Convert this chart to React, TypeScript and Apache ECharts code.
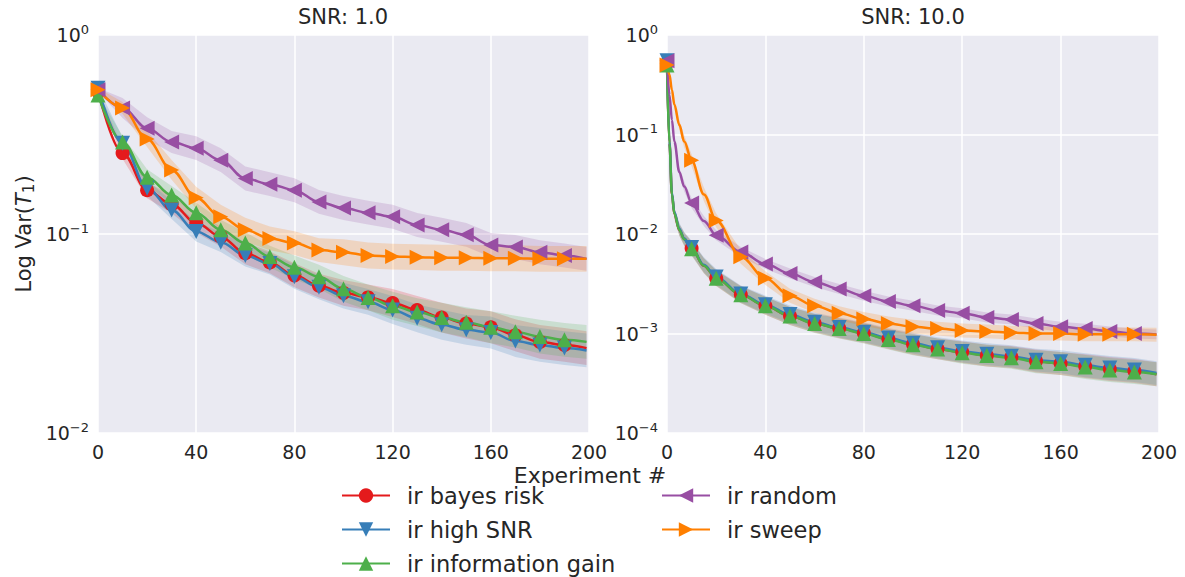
import React, { useEffect, useRef } from "react";
import * as echarts from "echarts";

// ---------- data ----------
const LX = [0, 10, 20, 30, 40, 50, 60, 70, 80, 90, 100, 110, 120, 130, 140, 150, 160, 170, 180, 190, 199];
const RX = [0, 1, 2, 3, 5, 7, 10, 15, 20, 30, 40, 50, 60, 70, 80, 90, 100, 110, 120, 130, 140, 150, 160, 170, 180, 190, 199];

const redL = [0.52, 0.255, 0.166, 0.141, 0.114, 0.097, 0.08, 0.072, 0.062, 0.055, 0.0506, 0.048, 0.045, 0.0415, 0.038, 0.0355, 0.034, 0.031, 0.0287, 0.0277, 0.0267];
const blueL = [0.54, 0.286, 0.17, 0.132, 0.103, 0.091, 0.078, 0.071, 0.061, 0.054, 0.049, 0.0456, 0.0415, 0.0377, 0.035, 0.033, 0.032, 0.029, 0.0277, 0.0267, 0.026];
const greenL = [0.5, 0.29, 0.193, 0.157, 0.128, 0.105, 0.09, 0.077, 0.068, 0.061, 0.053, 0.048, 0.0436, 0.0405, 0.038, 0.036, 0.034, 0.0323, 0.0305, 0.0294, 0.0287];
const purpleL = [0.53, 0.43, 0.34, 0.29, 0.27, 0.235, 0.19, 0.178, 0.166, 0.145, 0.135, 0.128, 0.122, 0.111, 0.105, 0.099, 0.088, 0.086, 0.081, 0.078, 0.075];
const orangeL = [0.53, 0.43, 0.3, 0.21, 0.152, 0.122, 0.105, 0.095, 0.09, 0.083, 0.081, 0.078, 0.077, 0.0765, 0.076, 0.076, 0.0755, 0.0755, 0.075, 0.075, 0.075];

const redR = [0.52, 0.082, 0.025, 0.016, 0.011, 0.0089, 0.0072, 0.0048, 0.0036, 0.00247, 0.0019, 0.0015, 0.00127, 0.00113, 0.00101, 0.00088, 0.00078, 0.0007, 0.00065, 0.0006, 0.00058, 0.00053, 0.0005, 0.00047, 0.00044, 0.00042, 0.00039];
const blueR = [0.55, 0.085, 0.026, 0.0165, 0.0113, 0.009, 0.0073, 0.0049, 0.0037, 0.0025, 0.00195, 0.00155, 0.0013, 0.00115, 0.00103, 0.0009, 0.0008, 0.00072, 0.00066, 0.00062, 0.00059, 0.00054, 0.00052, 0.00048, 0.00045, 0.00043, 0.0004];
const greenR = [0.5, 0.08, 0.025, 0.016, 0.011, 0.0088, 0.0071, 0.0048, 0.0036, 0.00245, 0.0019, 0.0015, 0.00126, 0.00112, 0.001, 0.00087, 0.00077, 0.0007, 0.00064, 0.0006, 0.00057, 0.00052, 0.0005, 0.00046, 0.00043, 0.00041, 0.00039];
const purpleR = [0.55, 0.25, 0.14, 0.085, 0.042, 0.03, 0.0205, 0.0135, 0.0097, 0.0066, 0.005, 0.004, 0.0033, 0.0028, 0.0024, 0.0021, 0.0019, 0.0017, 0.0016, 0.00145, 0.00138, 0.00126, 0.00117, 0.00112, 0.00105, 0.001, 0.00098];
const orangeR = [0.5, 0.4, 0.28, 0.2, 0.125, 0.085, 0.055, 0.025, 0.0137, 0.0059, 0.0036, 0.0024, 0.0019, 0.0016, 0.0014, 0.00126, 0.00117, 0.00112, 0.00107, 0.00105, 0.00102, 0.001, 0.001, 0.00098, 0.00098, 0.00098, 0.00097];

// confidence band half-widths (in decades)
const bandLSub = [0.005, 0.03, 0.04, 0.045, 0.05, 0.05, 0.055, 0.055, 0.06, 0.06, 0.065, 0.065, 0.07, 0.07, 0.075, 0.075, 0.08, 0.08, 0.085, 0.085, 0.085];
const bandLPurple = [0.01, 0.05, 0.055, 0.055, 0.06, 0.06, 0.06, 0.06, 0.06, 0.06, 0.06, 0.06, 0.06, 0.06, 0.06, 0.06, 0.06, 0.06, 0.06, 0.06, 0.06];
const bandLOrange = [0.01, 0.03, 0.04, 0.05, 0.055, 0.06, 0.06, 0.06, 0.06, 0.06, 0.065, 0.065, 0.065, 0.065, 0.065, 0.065, 0.065, 0.065, 0.065, 0.065, 0.065];
const bandRSub = [0.005, 0.02, 0.04, 0.05, 0.06, 0.065, 0.07, 0.075, 0.08, 0.085, 0.09, 0.09, 0.095, 0.1, 0.1, 0.1, 0.105, 0.105, 0.11, 0.11, 0.11, 0.115, 0.115, 0.12, 0.12, 0.12, 0.12];
const bandRPurple = [0.005, 0.02, 0.03, 0.04, 0.045, 0.05, 0.05, 0.05, 0.05, 0.05, 0.05, 0.05, 0.05, 0.05, 0.05, 0.05, 0.05, 0.05, 0.05, 0.05, 0.05, 0.05, 0.05, 0.05, 0.05, 0.05, 0.05];
const bandROrange = [0.005, 0.02, 0.03, 0.04, 0.05, 0.06, 0.06, 0.07, 0.07, 0.07, 0.07, 0.07, 0.07, 0.07, 0.07, 0.07, 0.07, 0.07, 0.07, 0.07, 0.07, 0.07, 0.07, 0.07, 0.07, 0.07, 0.07];

const TITLES = ["SNR: 1.0", "SNR: 10.0"];
const X_TICKS = { min: 0, max: 200, interval: 40 };

const SERIES_META = [
  { name: "ir bayes risk", color: "#E41A1C", symbol: "circle", rotate: 0, size: 14 },
  { name: "ir high SNR", color: "#377EB8", symbol: "triangle", rotate: 180, size: 15 },
  { name: "ir information gain", color: "#4DAF4A", symbol: "triangle", rotate: 0, size: 15 },
  { name: "ir random", color: "#984EA3", symbol: "triangle", rotate: 90, size: 15 },
  { name: "ir sweep", color: "#FF7F00", symbol: "triangle", rotate: -90, size: 15 },
];

const LEFT_VALUES = [redL, blueL, greenL, purpleL, orangeL];
const RIGHT_VALUES = [redR, blueR, greenR, purpleR, orangeR];
const LEFT_BANDS = [bandLSub, bandLSub, bandLSub, bandLPurple, bandLOrange];
const RIGHT_BANDS = [bandRSub, bandRSub, bandRSub, bandRPurple, bandROrange];

const TXT = "#262626";
const FONT = "DejaVu Sans";

function bandSeries(xs: number[], ys: number[], w: number[], color: string, gi: number) {
  const data = xs.map((x, i) => [x, ys[i] * Math.pow(10, -w[i]), ys[i] * Math.pow(10, w[i])]);
  return {
    type: "custom",
    xAxisIndex: gi,
    yAxisIndex: gi,
    z: 1,
    silent: true,
    encode: { x: 0, y: [1, 2] },
    data,
    renderItem: (params: any, api: any) => {
      if (params.dataIndex !== 0) return null;
      const up = data.map((d) => api.coord([d[0], d[2]]));
      const lo = data.map((d) => api.coord([d[0], d[1]])).reverse();
      return {
        type: "group",
        children: [
          {
            type: "polygon",
            shape: { points: up.concat(lo) },
            style: { fill: color, opacity: 0.2 },
          },
        ],
      };
    },
  };
}

function lineSeries(xs: number[], ys: number[], meta: any, gi: number) {
  return {
    type: "line",
    name: meta.name,
    xAxisIndex: gi,
    yAxisIndex: gi,
    z: 3,
    smooth: 0.35,
    smoothMonotone: "x",
    symbol: meta.symbol,
    symbolSize: meta.size,
    symbolRotate: meta.rotate,
    showAllSymbol: true,
    lineStyle: { color: meta.color, width: 2.5 },
    itemStyle: { color: meta.color },
    data: xs.map((x, i) =>
      x % 10 === 0 && x < 199 ? { value: [x, ys[i]] } : { value: [x, ys[i]], symbol: "none" }
    ),
  };
}

const logLabel = (v: number) => {
  const e = Math.round(Math.log10(v));
  return `{b|10}{s|${e < 0 ? "\u2212" + -e : e}}`;
};

function App() {
  const ref = useRef<HTMLDivElement>(null);
  useEffect(() => {
    document.body.style.margin = "0";
    const chart = echarts.init(ref.current!, null, { renderer: "svg" });
    const grids = [
      { left: 98, top: 35, width: 491, height: 398 },
      { left: 667, top: 35, width: 492, height: 398 },
    ];
    const yRanges = [
      { min: 0.01, max: 1 },
      { min: 0.0001, max: 1 },
    ];
    const series: any[] = [];
    [0, 1].forEach((gi) => {
      const xs = gi === 0 ? LX : RX;
      const vals = gi === 0 ? LEFT_VALUES : RIGHT_VALUES;
      const bands = gi === 0 ? LEFT_BANDS : RIGHT_BANDS;
      SERIES_META.forEach((m, k) => series.push(bandSeries(xs, vals[k], bands[k], m.color, gi)));
    });
    [0, 1].forEach((gi) => {
      const xs = gi === 0 ? LX : RX;
      const vals = gi === 0 ? LEFT_VALUES : RIGHT_VALUES;
      SERIES_META.forEach((m, k) => series.push(lineSeries(xs, vals[k], m, gi)));
    });

    const legendCommon = {
      orient: "vertical",
      top: 478,
      height: 100,
      itemWidth: 48,
      itemHeight: 18,
      itemGap: 9,
      textStyle: { fontSize: 22.5, color: TXT, fontFamily: FONT, padding: [0, 0, 0, 12], lineHeight: 25 },
    };

    const option: any = {
      animation: false,
      backgroundColor: "#ffffff",
      textStyle: { fontFamily: FONT },
      grid: grids.map((g) => ({ ...g, backgroundColor: "#EAEAF2", show: true, borderWidth: 0 })),
      xAxis: [0, 1].map((gi) => ({
        type: "value",
        gridIndex: gi,
        ...X_TICKS,
        axisLine: { show: false },
        axisTick: { show: false },
        splitLine: { lineStyle: { color: "#ffffff", width: 1.5 } },
        axisLabel: { color: TXT, fontSize: 19, margin: 9, fontFamily: FONT },
      })),
      yAxis: [0, 1].map((gi) => ({
        type: "log",
        logBase: 10,
        gridIndex: gi,
        ...yRanges[gi],
        interval: 1,
        axisLine: { show: false },
        axisTick: { show: false },
        minorTick: { show: false },
        splitLine: { lineStyle: { color: "#ffffff", width: 1.5 } },
        axisLabel: {
          margin: 9,
          formatter: logLabel,
          rich: {
            b: { fontSize: 19, color: TXT, fontFamily: FONT, lineHeight: 24 },
            s: { fontSize: 13, color: TXT, fontFamily: FONT, lineHeight: 24, padding: [0, 0, 12, 0] },
          },
        },
        name: gi === 0 ? "{n|Log Var(}{i|T}{sub|1}{n|)}" : "",
        nameLocation: "middle",
        nameRotate: 90,
        nameGap: 62,
        nameTextStyle: {
          rich: {
            n: { fontSize: 21, color: TXT, fontFamily: FONT },
            i: { fontSize: 21, color: TXT, fontFamily: FONT, fontStyle: "italic" },
            sub: { fontSize: 15, color: TXT, fontFamily: FONT, padding: [10, 0, 0, 0] },
          },
        },
      })),
      legend: [
        { ...legendCommon, data: SERIES_META.slice(0, 3).map((m) => m.name), left: 336 },
        { ...legendCommon, data: SERIES_META.slice(3).map((m) => m.name), left: 656 },
      ],
      graphic: [
        {
          type: "text",
          x: 343,
          y: 17,
          style: { text: TITLES[0], fontSize: 21, fill: TXT, fontFamily: FONT, textAlign: "center", textVerticalAlign: "middle" },
        },
        {
          type: "text",
          x: 913,
          y: 17,
          style: { text: TITLES[1], fontSize: 21, fill: TXT, fontFamily: FONT, textAlign: "center", textVerticalAlign: "middle" },
        },
        {
          type: "text",
          x: 590,
          y: 475,
          z: 10,
          style: { text: "Experiment #", fontSize: 22, fill: TXT, fontFamily: FONT, textAlign: "center", textVerticalAlign: "middle" },
        },
      ],
      series,
    };
    chart.setOption(option);
    return () => chart.dispose();
  }, []);
  return <div ref={ref} style={{ width: 1185, height: 577 }} />;
}

export default App;
